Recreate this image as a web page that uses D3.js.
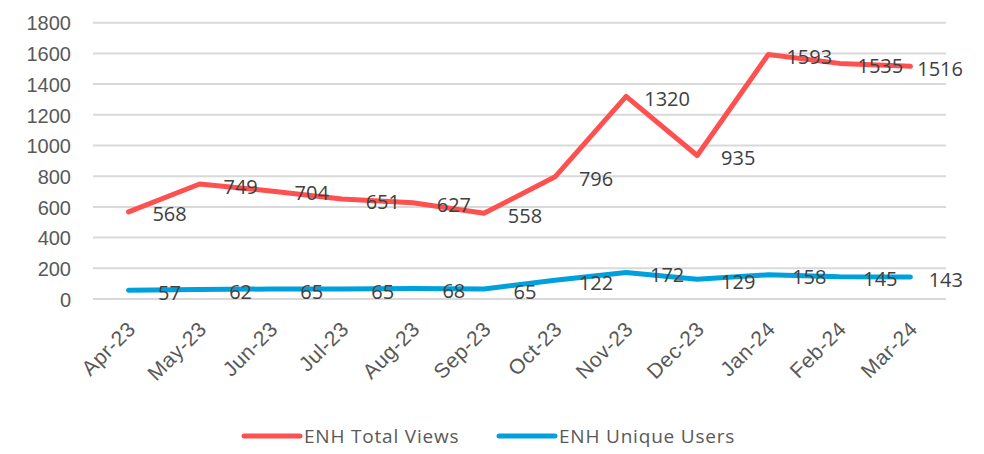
<!DOCTYPE html>
<html>
<head>
<meta charset="utf-8">
<script src="https://cdn.jsdelivr.net/npm/d3@7"></script>
<style>
	body { margin: 0; background: #ffffff; }
	svg { display: block; font-family: "Open Sans", "Noto Sans", sans-serif; }
	.ax-y text { fill: #595959; font-size: 20px; }
	.ax-x text { fill: #595959; font-size: 21px; letter-spacing: 0.5px; }
	.ax-y path, .ax-x path { display: none; }
	.ax-y line, .ax-x line { display: none; }
	.grid-line { stroke: #d9d9d9; stroke-width: 2; }
	.point-label { fill: #404040; font-size: 20px; }
	.legend-text { fill: #595959; font-size: 19px; letter-spacing: 0.8px; }
</style>
</head>
<body>
<svg id="chart" width="984" height="454"></svg>
<script>

var aMonths = ['Apr-23','May-23','Jun-23','Jul-23','Aug-23','Sep-23','Oct-23','Nov-23','Dec-23','Jan-24','Feb-24','Mar-24'];
var aTotalViews = [568, 749, 704, 651, 627, 558, 796, 1320, 935, 1593, 1535, 1516];
var aUniqueUsers = [57, 62, 65, 65, 68, 65, 122, 172, 129, 158, 145, 143];
var aTicksY = [0, 200, 400, 600, 800, 1000, 1200, 1400, 1600, 1800];

var aSeries = [
	{ 'label': 'ENH Total Views', 'values': aTotalViews, 'color': '#ff5050' },
	{ 'label': 'ENH Unique Users', 'values': aUniqueUsers, 'color': '#00a0dc' }
];

var sSvg = d3.select('#chart');

var nLeft = 93;
var nRight = 946;
var nTop = 22.7;
var nBottom = 299;

var scaleX = d3.scaleBand()
	.range([nLeft, nRight])
	.domain(aMonths);

var scaleY = d3.scaleLinear()
	.range([nBottom, nTop])
	.domain([0, 1800]);

// gridlines
sSvg.append('g')
	.selectAll('line')
	.data(aTicksY)
	.enter()
		.append('line')
			.attr('class', 'grid-line')
			.attr('x1', nLeft)
			.attr('x2', nRight)
			.attr('y1', function(v) { return scaleY(v); })
			.attr('y2', function(v) { return scaleY(v); });

var axisY = d3.axisLeft(scaleY)
	.tickValues(aTicksY)
	.tickSize(0)
	.tickPadding(0)
	.tickFormat(d3.format('d'));

sSvg.append('g')
	.attr('class', 'ax-y')
	.attr('transform', 'translate(71,0)')
	.call(axisY)
	.selectAll('text')
		.attr('dy', '0.36em');

var axisX = d3.axisBottom(scaleX)
	.tickSize(0)
	.tickPadding(0);

sSvg.append('g')
	.attr('class', 'ax-x')
	.attr('transform', 'translate(0,' + nBottom + ')')
	.call(axisX)
	.selectAll('text')
		.attr('text-anchor', 'end')
		.attr('dy', null)
		.attr('y', 0)
		.attr('transform', 'translate(3,26) rotate(-45)')
		.attr('dominant-baseline', 'central');

var lineGen = d3.line()
	.x(function(d, i) { return scaleX(aMonths[i]) + scaleX.bandwidth() / 2; })
	.y(function(d) { return scaleY(d); });

aSeries.forEach(function(series)
{
	sSvg.append('path')
		.datum(series.values)
		.attr('fill', 'none')
		.attr('stroke', series.color)
		.attr('stroke-width', 5)
		.attr('stroke-linecap', 'round')
		.attr('stroke-linejoin', 'round')
		.attr('d', lineGen);
});

// labels to the right of each point, kept inside the chart on the far right
aSeries.forEach(function(series)
{
	series.values.forEach(function(v, i)
	{
		var nX = scaleX(aMonths[i]) + scaleX.bandwidth() / 2;
		var sText = sSvg.append('text')
			.attr('class', 'point-label')
			.attr('text-anchor', 'middle')
			.attr('dominant-baseline', 'central')
			.attr('y', scaleY(v) + 2)
			.text(v);
		var nW = sText.node().getComputedTextLength();
		var nCx = Math.min(nX + 41, 963 - nW / 2);
		sText.attr('x', nCx);
	});
});

// legend
var aLegendX = [244, 499];
aSeries.forEach(function(series, i)
{
	var nX = aLegendX[i];
	sSvg.append('line')
		.attr('x1', nX)
		.attr('x2', nX + 56)
		.attr('y1', 436)
		.attr('y2', 436)
		.attr('stroke', series.color)
		.attr('stroke-width', 5)
		.attr('stroke-linecap', 'round');
	sSvg.append('text')
		.attr('class', 'legend-text')
		.attr('x', nX + 60)
		.attr('y', 436)
		.attr('dominant-baseline', 'central')
		.text(series.label);
});

</script>
</body>
</html>
